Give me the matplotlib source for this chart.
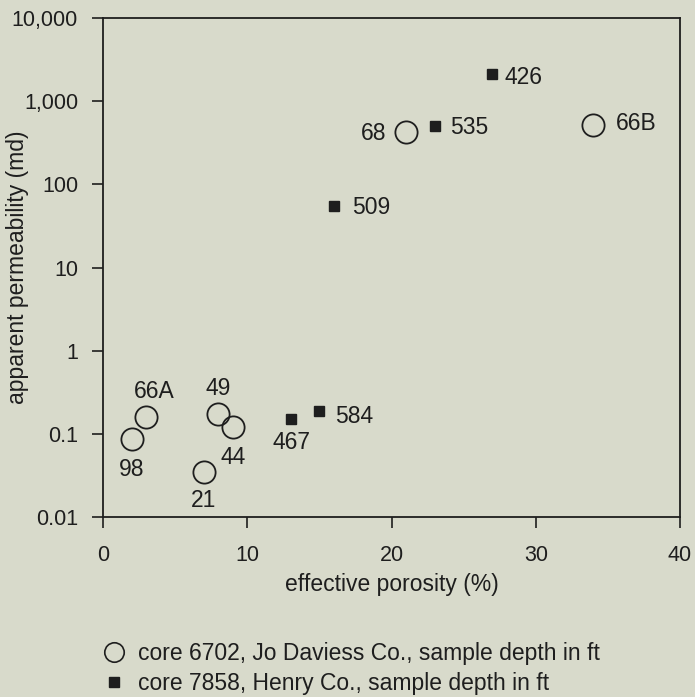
import matplotlib
matplotlib.use("Agg")
import matplotlib.pyplot as plt
from matplotlib.lines import Line2D
from matplotlib.ticker import FixedLocator, FixedFormatter, NullLocator

plt.rcParams['font.family'] = ['Liberation Sans', 'DejaVu Sans']

# core 6702, Jo Daviess Co.
jd_porosity = [2, 3, 8, 9, 7, 21, 34]
jd_perm = [0.087, 0.16, 0.175, 0.12, 0.035, 420, 520]
jd_depth = ["98", "66A", "49", "44", "21", "68", "66B"]

# core 7858, Henry Co.
hc_porosity = [13, 15, 27, 23, 16]
hc_perm = [0.15, 0.19, 2100, 500, 55]
hc_depth = ["467", "584", "426", "535", "509"]

ytick_vals = [0.01, 0.1, 1, 10, 100, 1000, 10000]
ytick_text = ["0.01", "0.1", "1", "10", "100", "1,000", "10,000"]

# label placement (offset in points, horizontal alignment)
jd_lbl = [((0, -22), 'center'), ((6, 18), 'center'), ((0, 18), 'center'),
          ((0, -22), 'center'), ((0, -21), 'center'), ((-14, -1), 'right'),
          ((16, 1), 'left')]
hc_lbl = [((1, -17), 'center'), ((11, -4), 'left'), ((9, -2), 'left'),
          ((11, -1), 'left'), ((13, -1), 'left')]

bg = '#d8dacb'
ink = '#1e1e1e'
fs = 16.5
tfs = 15.5

fig = plt.figure(figsize=(6.95, 6.97), dpi=100, facecolor=bg)
ax = fig.add_axes([103/695, 1-517/697, 577/695, 499/697], facecolor=bg)

ax.plot(jd_porosity, jd_perm, 'o', ms=16, mfc='none', mec=ink, mew=1.3, ls='none')
ax.plot(hc_porosity, hc_perm, 's', ms=7.5, mfc=ink, mec=ink, ls='none')

for x, y, t, (off, ha) in zip(jd_porosity, jd_perm, jd_depth, jd_lbl):
    ax.annotate(t, (x, y), xytext=off, textcoords='offset points', ha=ha,
                va='center', fontsize=fs, color=ink)
for x, y, t, (off, ha) in zip(hc_porosity, hc_perm, hc_depth, hc_lbl):
    ax.annotate(t, (x, y), xytext=off, textcoords='offset points', ha=ha,
                va='center', fontsize=fs, color=ink)

ax.set_yscale('log')
ax.set_xlim(0, 40)
ax.set_ylim(0.01, 10000)
ax.yaxis.set_major_locator(FixedLocator(ytick_vals))
ax.yaxis.set_major_formatter(FixedFormatter(ytick_text))
ax.yaxis.set_minor_locator(NullLocator())
ax.set_xticks([0, 10, 20, 30, 40])
ax.tick_params(direction='out', length=8, width=1.2, color=ink, labelsize=tfs,
               labelcolor=ink, pad=10)
ax.tick_params(axis='x', pad=12)
for s in ax.spines.values():
    s.set_linewidth(1.3)
    s.set_color(ink)

ax.set_xlabel("effective porosity (%)", fontsize=fs, color=ink, va='center')
ax.xaxis.set_label_coords(0.5, (517 - 585) / 499)
ax.set_ylabel("apparent permeability (md)", fontsize=fs, color=ink, va='center')
ax.yaxis.set_label_coords((18 - 103) / 577, 0.5)

handles = [Line2D([], [], marker='o', ls='none', ms=14, mfc='none', mec=ink, mew=1.2),
           Line2D([], [], marker='s', ls='none', ms=7, mfc=ink, mec=ink)]
fig.legend(handles, ["core 6702, Jo Daviess Co., sample depth in ft",
                     "core 7858, Henry Co., sample depth in ft"],
           loc='upper left', bbox_to_anchor=(89/695, 1-631/697), frameon=False,
           fontsize=fs, labelcolor=ink, handletextpad=0.45, labelspacing=0.3,
           borderpad=0, handlelength=1.2)

fig.savefig("out.png", dpi=100, facecolor=bg)
